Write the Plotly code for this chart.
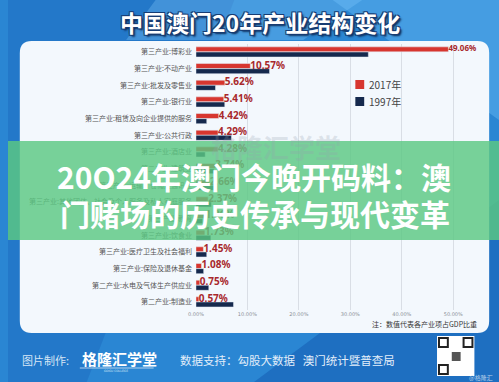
import plotly.graph_objects as go

W, H = 499, 382

categories = [
    "第三产业:博彩业", "第三产业:不动产业", "第三产业:批发及零售业", "第三产业:银行业",
    "第三产业:租赁及向企业提供的服务", "第三产业:公共行政", "第三产业:酒店业", "第二产业:建筑业",
    "第三产业:运输、仓储及通讯业", "第三产业:其他团体、社会及个人服务及私人家庭服务", "第三产业:教育",
    "第三产业:饮食业", "第三产业:医疗卫生及社会福利", "第三产业:保险及退休基金",
    "第二产业:水电及气体生产供应业", "第二产业:制造业",
]
values_2017 = [49.06, 10.57, 5.62, 5.41, 4.42, 4.29, 4.28, 3.74, 2.66, 2.37, 1.86, 1.73, 1.45, 1.08, 0.75, 0.57]
values_1997 = [33.5, 14.3, 3.8, 5.6, 2.1, 6.9, 1.8, 3.5, 4.2, 3.0, 1.3, 2.9, 2.1, 1.5, 2.5, 7.3]
x_ticks = [0, 10, 20, 30, 40, 50]
x_tick_labels = ["0.00%", "10.00%", "20.00%", "30.00%", "40.00%", "50.00%"]

RED = "#d7362f"
NAVY = "#15294d"
FONT = "Noto Sans CJK SC"


def px(x):
    return x / W


def py(y):
    return 1 - y / H


def note(x, y, text, size, color, xanchor="center", weight="normal", family=FONT, shadow=None):
    f = dict(family=family, size=size, color=color, weight=weight)
    if shadow:
        f["shadow"] = shadow
    return dict(x=px(x), y=py(y), xref="paper", yref="paper", text=text, showarrow=False,
                xanchor=xanchor, yanchor="middle", font=f)


idx = list(range(len(categories)))

fig = go.Figure()
fig.add_trace(go.Bar(
    y=idx, x=values_2017, orientation="h", marker_color=RED,
    width=0.3, offset=-0.31, name="2017年", showlegend=False, hoverinfo="x",
))
fig.add_trace(go.Bar(
    y=idx, x=values_1997, orientation="h", marker_color=NAVY,
    width=0.3, offset=0.0, name="1997年", showlegend=False, hoverinfo="x",
))
fig.add_trace(go.Scatter(
    y=[i - 0.16 for i in idx], x=values_2017, mode="text",
    text=[f"{v:.2f}%" for v in values_2017], textposition="middle right",
    textfont=dict(family="Noto Sans", size=[8] + [10] * (len(idx) - 1),
                  color="#a8282c", weight="bold"),
    showlegend=False, hoverinfo="skip",
))

x_left, x_right = 191, 482
scale = (452.5 - 191) / 50.0
shapes = []
annotations = []

# Background decorations
shapes += [
    dict(type="path", xref="paper", yref="paper", layer="below",
         path=f"M {px(0)} {py(0)} L {px(230)} {py(0)} L {px(80)} {py(382)} L {px(0)} {py(382)} Z",
         fillcolor="rgba(20,90,180,0.30)", line_width=0),
    dict(type="path", xref="paper", yref="paper", layer="below",
         path=f"M {px(150)} {py(0)} L {px(360)} {py(0)} L {px(300)} {py(40)} L {px(120)} {py(40)} Z",
         fillcolor="rgba(140,210,255,0.30)", line_width=0),
    dict(type="path", xref="paper", yref="paper", layer="below",
         path=f"M {px(330)} {py(0)} L {px(499)} {py(0)} L {px(499)} {py(120)} Z",
         fillcolor="rgba(120,200,255,0.35)", line_width=0),
    dict(type="path", xref="paper", yref="paper", layer="below",
         path=f"M {px(250)} {py(382)} L {px(499)} {py(200)} L {px(499)} {py(382)} Z",
         fillcolor="rgba(10,70,160,0.35)", line_width=0),
]
# White rounded panel
r = 12
x0, x1, y0, y1 = 12, 489, 41, 333
panel_path = (
    f"M {px(x0 + r)} {py(y0)} L {px(x1 - r)} {py(y0)} "
    f"Q {px(x1)} {py(y0)} {px(x1)} {py(y0 + r)} L {px(x1)} {py(y1 - r)} "
    f"Q {px(x1)} {py(y1)} {px(x1 - r)} {py(y1)} L {px(x0 + r)} {py(y1)} "
    f"Q {px(x0)} {py(y1)} {px(x0)} {py(y1 - r)} L {px(x0)} {py(y0 + r)} "
    f"Q {px(x0)} {py(y0)} {px(x0 + r)} {py(y0)} Z"
)
shapes.append(dict(type="path", xref="paper", yref="paper", layer="below",
                   path=panel_path, fillcolor="#f3f8fd", line_width=0))

# Legend
for i, (col, lab) in enumerate([(RED, "2017年"), (NAVY, "1997年")]):
    yc = 84.5 + i * 17
    shapes.append(dict(type="rect", xref="paper", yref="paper",
                       x0=px(353), x1=px(362), y0=py(yc - 4.5), y1=py(yc + 4.5),
                       fillcolor=col, line_width=0))
    annotations.append(note(365, yc, lab, 10, "#444", xanchor="left"))

# Faint watermark
annotations.append(note(272, 146, "格隆汇学堂", 26, "rgba(150,160,175,0.25)", weight="bold"))

# Title
title_shadow = ("-1px -1px 0 #173c73, 1px -1px 0 #173c73, -1px 1px 0 #173c73, "
                "1px 1px 0 #173c73, 2px 2px 2px #0d2a55")
annotations.append(note(256, 22, "中国澳门20年产业结构变化", 23, "white", weight="bold", shadow=title_shadow))

# Note
annotations.append(note(479, 324, "注：数值代表各产业项占GDP比重", 7, "#333", xanchor="right"))

# Green banner overlay
shapes.append(dict(type="rect", xref="paper", yref="paper", layer="above",
                   x0=0, x1=1, y0=py(240), y1=py(141),
                   fillcolor="rgba(92,200,130,0.82)", line_width=0))
annotations.append(note(250, 176, "20O24年澳门今晚开码料：澳", 30, "white", weight="bold"))
annotations.append(note(251, 213, "门赌场的历史传承与现代变革", 30, "white", weight="bold"))

# Footer
annotations += [
    note(12, 360, "图片制作:", 11, "#d6e6f6", xanchor="left"),
    note(73, 358, "格隆汇学堂", 15, "white", xanchor="left", weight="bold"),
    note(110, 371, "GOGU COLLEGE", 3, "#d6e6f6", family="DejaVu Sans"),
    note(173, 360, "数据支持：勾股大数据   澳门统计暨普查局", 11.5, "#e3eefa", xanchor="left"),
    note(495, 377, "@格隆汇", 6, "#b8d0ea", xanchor="right"),
]
shapes.append(dict(type="line", xref="paper", yref="paper", x0=px(73), x1=px(148),
                   y0=py(368), y1=py(368), line=dict(color="#d6e6f6", width=0.8)))
# QR-like block
shapes.append(dict(type="rect", xref="paper", yref="paper", x0=px(436), x1=px(474),
                   y0=py(376), y1=py(336), fillcolor="white", line_width=0))
for (qx, qy) in [(438, 338), (463, 338), (438, 365)]:
    shapes.append(dict(type="rect", xref="paper", yref="paper", x0=px(qx), x1=px(qx + 9),
                       y0=py(qy + 9), y1=py(qy), fillcolor="white", line=dict(color="#222", width=2)))
shapes.append(dict(type="rect", xref="paper", yref="paper", x0=px(451), x1=px(460),
                   y0=py(361), y1=py(352), fillcolor="#555", line_width=0))

fig.update_layout(
    width=W, height=H, margin=dict(l=0, r=0, t=0, b=0),
    paper_bgcolor="#2a86d3", plot_bgcolor="rgba(0,0,0,0)",
    barmode="overlay", shapes=shapes, annotations=annotations,
    font=dict(family=FONT),
    xaxis=dict(domain=[px(x_left), px(x_right)], range=[0, (x_right - x_left) / scale],
               tickvals=x_ticks, ticktext=x_tick_labels, showgrid=True, gridcolor="#d9dee5",
               gridwidth=1, zeroline=False, showline=False, ticks="",
               tickfont=dict(family="DejaVu Sans", size=5, color="#8a8f96"), fixedrange=True),
    yaxis=dict(domain=[py(310.3), py(43.7)], range=[15.5, -0.5],
               tickvals=idx, ticktext=categories, showgrid=False, zeroline=False,
               showline=False, ticks="", ticklabelstandoff=3,
               tickfont=dict(family=FONT, size=7, color="#555"), fixedrange=True),
)

fig.write_html("out.html")
